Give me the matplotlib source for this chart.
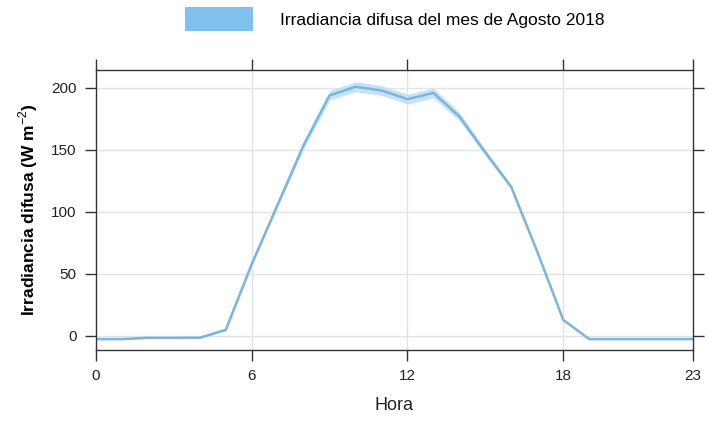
import numpy as np
import matplotlib
matplotlib.use("Agg")
import matplotlib.pyplot as plt
from matplotlib.patches import Patch

plt.rcParams["font.family"] = ["Liberation Sans", "DejaVu Sans"]
plt.rcParams["mathtext.fontset"] = "custom"
plt.rcParams["mathtext.rm"] = "Liberation Sans"
plt.rcParams["mathtext.bf"] = "Liberation Sans:bold"

# Datos: irradiancia difusa media por hora (agosto 2018)
horas = list(range(24))
difusa = [-2.5, -2.5, -1.5, -1.5, -1.4, 5, 58, 106, 154, 194, 201, 198,
          191, 196, 177, 148, 120, 68, 13, -2.5, -2.5, -2.5, -2.5, -2.5]
error = [0.5, 0.5, 0.5, 0.5, 0.6, 1, 1.5, 2, 3, 4, 4, 4,
         4, 4, 3.5, 2.5, 2, 1.5, 1, 0.5, 0.5, 0.5, 0.5, 0.5]

x_ticks = [0, 6, 12, 18, 23]
y_ticks = [0, 50, 100, 150, 200]

d = np.array(difusa)
e = np.array(error)

fig = plt.figure(figsize=(7.09, 4.24), dpi=100)
ax = fig.add_axes([96 / 709, 1 - 350 / 424, 597 / 709, 280 / 424])

ax.fill_between(horas, d - e, d + e, color="#c4e3f6", lw=0)
ax.plot(horas, d, color="#7db5da", lw=1.8)

ax.set_xlim(0, 23)
ax.set_ylim(-11.3, 214.5)
ax.set_xticks(x_ticks)
ax.set_yticks(y_ticks)
for v in [6, 12, 18]:
    ax.axvline(v, color="#e3e3e3", lw=1, zorder=0)
for v in y_ticks:
    ax.axhline(v, color="#e3e3e3", lw=1, zorder=0)

ax.tick_params(axis="both", direction="out", length=8, width=1, labelsize=11,
               color="#333333", labelcolor="#222222", pad=6, top=True, right=True)
for s in ax.spines.values():
    s.set_color("#333333")
    s.set_linewidth(1)

ax.set_xlabel("Hora", fontsize=13, labelpad=10, color="#222222")
ax.set_ylabel(r"Irradiancia difusa (W m$^{-2}$)", fontsize=12.5,
              fontweight="bold", labelpad=8)

fig.legend(handles=[Patch(facecolor="#7fc0ec", edgecolor="none")],
           labels=["Irradiancia difusa del mes de Agosto 2018"],
           loc="center", bbox_to_anchor=(395 / 709, 1 - 19 / 424),
           frameon=False, fontsize=12.5, handlelength=3.9, handleheight=1.7,
           handletextpad=1.6)

fig.savefig("out.png", dpi=100)
